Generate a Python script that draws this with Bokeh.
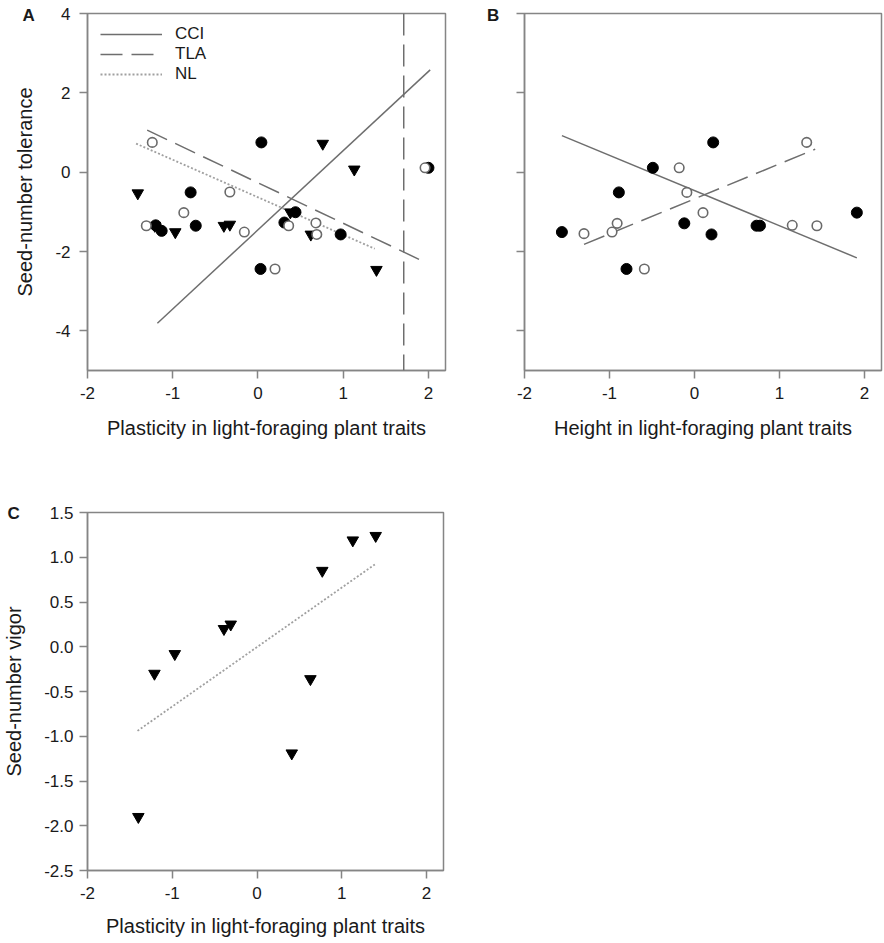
from bokeh.plotting import figure
from bokeh.layouts import row, column
from bokeh.models import (Range1d, FixedTicker, PrintfTickFormatter, Span, Label,
                          Legend, LegendItem)
from bokeh.embed import file_html
from bokeh.resources import INLINE

# ---------------- data ----------------
# Panel A: plasticity vs seed-number tolerance
a_filled_x = [0.04, -0.79, -0.73, -1.20, -1.13, 0.03, 0.44, 0.31, 0.97, 2.00]
a_filled_y = [0.75, -0.51, -1.35, -1.34, -1.48, -2.44, -1.01, -1.27, -1.57, 0.11]
a_open_x = [-1.24, -1.31, -0.87, -0.33, -0.16, 0.20, 0.36, 0.68, 0.69, 1.96]
a_open_y = [0.75, -1.35, -1.02, -0.50, -1.51, -2.44, -1.35, -1.28, -1.57, 0.11]
a_tri_x = [-1.41, -1.21, -0.97, -0.40, -0.33, 0.38, 0.62, 0.76, 1.13, 1.39]
a_tri_y = [-0.53, -1.35, -1.51, -1.35, -1.32, -1.01, -1.57, 0.72, 0.07, -2.46]
a_cci_x = [-1.18, 2.02]
a_cci_y = [-3.81, 2.58]
a_tla_x = [-1.30, 1.98]
a_tla_y = [1.06, -2.29]
a_nl_x = [-1.43, 1.37]
a_nl_y = [0.72, -1.93]
a_tla_vertical_x = 1.71

# Panel B: height vs seed-number tolerance
b_filled_x = [-1.56, -0.89, -0.80, -0.49, -0.12, 0.20, 0.22, 0.73, 0.77, 1.91]
b_filled_y = [-1.51, -0.51, -2.44, 0.11, -1.29, -1.57, 0.75, -1.35, -1.35, -1.02]
b_open_x = [-1.30, -0.97, -0.91, -0.59, -0.18, -0.09, 0.10, 1.15, 1.44, 1.32]
b_open_y = [-1.55, -1.51, -1.29, -2.44, 0.11, -0.51, -1.02, -1.34, -1.35, 0.75]
b_cci_x = [-1.56, 1.91]
b_cci_y = [0.92, -2.16]
b_tla_x = [-1.30, 1.42]
b_tla_y = [-1.82, 0.58]

# Panel C: plasticity vs seed-number vigor
c_tri_x = [-1.40, -1.21, -0.97, -0.39, -0.31, 0.41, 0.63, 0.77, 1.13, 1.40]
c_tri_y = [-1.90, -0.30, -0.08, 0.20, 0.25, -1.19, -0.36, 0.85, 1.19, 1.24]
c_nl_x = [-1.41, 1.39]
c_nl_y = [-0.94, 0.92]

x_ticks = [-2, -1, 0, 1, 2]
ab_y_ticks = [-4, -2, 0, 2, 4]
c_y_ticks = [-2.5, -2.0, -1.5, -1.0, -0.5, 0.0, 0.5, 1.0, 1.5]

legend_labels = ["CCI", "TLA", "NL"]
x_label_a = "Plasticity in light-foraging plant traits"
x_label_b = "Height in light-foraging plant traits"
y_label_a = "Seed-number tolerance"
y_label_c = "Seed-number vigor"

# ---------------- style ----------------
FONT = "Liberation Sans"
AXIS_GREY = "#858585"
LINE_GREY = "#6e6e6e"
DOT_GREY = "#a0a0a0"
OPEN_GREY = "#6a6a6a"
DASH = "22 9"


def make_fig(width, height, xr, yr, borders):
    p = figure(width=width, height=height, x_range=Range1d(*xr), y_range=Range1d(*yr),
               output_backend="svg", toolbar_location=None,
               min_border_left=borders[0], min_border_right=borders[1],
               min_border_top=borders[2], min_border_bottom=borders[3])
    p.grid.visible = False
    p.outline_line_color = AXIS_GREY
    p.outline_line_width = 1.5
    p.outline_line_alpha = 1.0
    p.background_fill_color = "white"
    p.border_fill_color = "white"
    for ax in (p.xaxis[0], p.yaxis[0]):
        ax.axis_line_color = AXIS_GREY
        ax.axis_line_width = 1.5
        ax.major_tick_line_color = AXIS_GREY
        ax.major_tick_line_width = 1.5
        ax.major_tick_in = 0
        ax.major_tick_out = 8
        ax.minor_tick_line_color = None
        ax.major_label_text_font = FONT
        ax.major_label_text_font_size = "17px"
        ax.major_label_text_color = "#1a1a1a"
        ax.axis_label_text_font = FONT
        ax.axis_label_text_font_size = "20px"
        ax.axis_label_text_font_style = "normal"
        ax.axis_label_text_color = "#1a1a1a"
    p.xaxis[0].major_label_standoff = 8
    p.yaxis[0].major_label_standoff = 9
    p.xaxis[0].axis_label_standoff = 15
    p.yaxis[0].axis_label_standoff = 16
    return p


def panel_letter(p, x, y, text, side):
    p.add_layout(Label(x=x, y=y, text=text, text_font=FONT, text_font_size="17px",
                       text_align="center", text_baseline="middle",
                       text_color="#1a1a1a", text_font_style="bold"), side)


# ---------------- panel A ----------------
pA = make_fig(480, 470, (-2, 2.2), (-5, 4), (87, 35, 13, 100))
pA.xaxis.ticker = FixedTicker(ticks=x_ticks)
pA.yaxis.ticker = FixedTicker(ticks=ab_y_ticks)
pA.xaxis.formatter = PrintfTickFormatter(format="%d")
pA.yaxis.formatter = PrintfTickFormatter(format="%d")
pA.xaxis.axis_label = x_label_a
pA.yaxis.axis_label = y_label_a

r_cci = pA.line(a_cci_x, a_cci_y, line_color=LINE_GREY, line_width=1.5)
r_tla = pA.line(a_tla_x, a_tla_y, line_color=LINE_GREY, line_width=1.5, line_dash=DASH)
r_nl = pA.line(a_nl_x, a_nl_y, line_color=DOT_GREY, line_width=1.8, line_dash="2 2")
pA.add_layout(Span(location=a_tla_vertical_x, dimension="height", line_color=LINE_GREY,
                   line_width=1.5, line_dash=DASH))
pA.scatter(a_filled_x, a_filled_y, marker="circle", size=11, fill_color="black",
           line_color="black")
pA.scatter(a_tri_x, a_tri_y, marker="inverted_triangle", size=11.5, fill_color="black",
           line_color="black")
pA.scatter(a_open_x, a_open_y, marker="circle", size=9.5, fill_color="white",
           line_color=OPEN_GREY, line_width=1.6)

legend = Legend(items=[LegendItem(label=legend_labels[0], renderers=[r_cci]),
                       LegendItem(label=legend_labels[1], renderers=[r_tla]),
                       LegendItem(label=legend_labels[2], renderers=[r_nl])],
                location=(13, 286), border_line_color=None, background_fill_alpha=0,
                padding=0, margin=0, spacing=0, glyph_width=62, glyph_height=20,
                label_height=20, label_standoff=13, label_text_font=FONT,
                label_text_font_size="17px", label_text_color="#1a1a1a")
pA.add_layout(legend, "center")
panel_letter(pA, -2.69, 3.95, "A", "right")

# ---------------- panel B ----------------
pB = make_fig(403, 470, (-2, 2.2), (-5, 4), (44, 2, 13, 100))
pB.xaxis.ticker = FixedTicker(ticks=x_ticks)
pB.yaxis.ticker = FixedTicker(ticks=ab_y_ticks)
pB.xaxis.formatter = PrintfTickFormatter(format="%d")
pB.yaxis.major_label_text_color = None
pB.xaxis.axis_label = x_label_b

pB.line(b_cci_x, b_cci_y, line_color=LINE_GREY, line_width=1.5)
pB.line(b_tla_x, b_tla_y, line_color=LINE_GREY, line_width=1.5, line_dash=DASH)
pB.scatter(b_filled_x, b_filled_y, marker="circle", size=11, fill_color="black",
           line_color="black")
pB.scatter(b_open_x, b_open_y, marker="circle", size=9.5, fill_color="white",
           line_color=OPEN_GREY, line_width=1.6)
panel_letter(pB, -2.37, 3.95, "B", "below")

# ---------------- panel C ----------------
pC = make_fig(473, 472, (-2, 2.2), (-2.5, 1.5), (86, 30, 42, 72))
pC.xaxis.ticker = FixedTicker(ticks=x_ticks)
pC.yaxis.ticker = FixedTicker(ticks=c_y_ticks)
pC.xaxis.formatter = PrintfTickFormatter(format="%d")
pC.yaxis.formatter = PrintfTickFormatter(format="%.1f")
pC.xaxis.axis_label = x_label_a
pC.yaxis.axis_label = y_label_c
pC.yaxis[0].major_label_standoff = 6
pC.yaxis[0].axis_label_standoff = 16
pC.xaxis[0].axis_label_standoff = 13

pC.line(c_nl_x, c_nl_y, line_color=DOT_GREY, line_width=1.8, line_dash="2 2")
pC.scatter(c_tri_x, c_tri_y, marker="inverted_triangle", size=11.5, fill_color="black",
           line_color="black")
panel_letter(pC, -2.87, 1.49, "C", "right")

layout = column(row(pA, pB), pC)
open("out.html", "w").write(file_html(layout, INLINE))
